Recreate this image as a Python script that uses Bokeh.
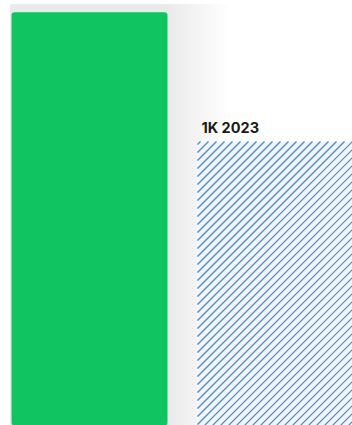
from bokeh.plotting import figure
from bokeh.models import Range1d, ColumnDataSource
from bokeh.core.properties import value
from bokeh.embed import file_html
from bokeh.resources import INLINE

# Data
categories = ["Previous", "2023"]
values = [1455, 1000]
labels = ["", "1K 2023"]

xs = list(range(len(categories)))
bar_w = 0.8387

W, H = 352, 425
xr = Range1d(-0.4785, 1.414)
yr = Range1d(0, 1496.5)

p = figure(width=W, height=H, output_backend="svg", toolbar_location=None,
           x_range=xr, y_range=yr,
           min_border=0, min_border_left=0, min_border_right=0,
           min_border_top=0, min_border_bottom=0)
p.axis.visible = False
p.grid.visible = False
p.outline_line_color = None
p.background_fill_color = "white"
p.border_fill_color = "white"

# pixel <-> data helpers (styling only)
sx = W / (xr.end - xr.start)
sy = H / (yr.end - yr.start)
def to_px(x, y):
    return (x - xr.start) * sx, H - (y - yr.start) * sy
def to_data(px, py):
    return px / sx + xr.start, (H - py) / sy + yr.start

# soft shadow to the right of the first bar
unit = 1 / sx
for k in range(1, 64, 3):
    p.quad(left=[xs[0] - bar_w / 2 - unit * 1], right=[xs[0] + bar_w / 2 + unit * k],
           bottom=[-50], top=[values[0] + 8 / sy],
           fill_color="#8a8a8a", fill_alpha=0.0085, line_color=None)

# first bar (solid green)
p.vbar(x=[xs[0]], top=[values[0]], width=bar_w, bottom=-50,
       fill_color="#10c462", line_color=None, border_radius=3)

# second bar (light fill + 45-degree hatch)
p.vbar(x=[xs[1]], top=[values[1]], width=bar_w, bottom=-50,
       fill_color="#f1f5fc", line_color=None)

L, T = to_px(xs[1] - bar_w / 2, values[1])
R, B = W + 10, H + 10
spacing = 8.0
x0s, y0s, x1s, y1s = [], [], [], []
k = L + T + 3
while k < R + B:
    ys_ = min(B, k - L); xs_ = k - ys_
    ye_ = max(T, k - R); xe_ = k - ye_
    if xs_ <= R and ys_ >= T:
        a = to_data(xs_, ys_); b = to_data(xe_, ye_)
        x0s.append(a[0]); y0s.append(a[1]); x1s.append(b[0]); y1s.append(b[1])
    k += spacing
p.segment(x0=x0s, y0=y0s, x1=x1s, y1=y1s, line_color="#4a86d4", line_width=1.2)

src = ColumnDataSource(dict(x=[xs[1] - bar_w / 2], y=[values[1]], t=[labels[1]]))
p.text(x="x", y="y", text="t", source=src, x_offset=4, y_offset=-6,
       text_font=value("Inter"), text_font_style="bold", text_font_size="14.5px",
       text_color="#1a1a1a", text_baseline="bottom", text_align="left")

open("out.html", "w").write(file_html(p, INLINE))
